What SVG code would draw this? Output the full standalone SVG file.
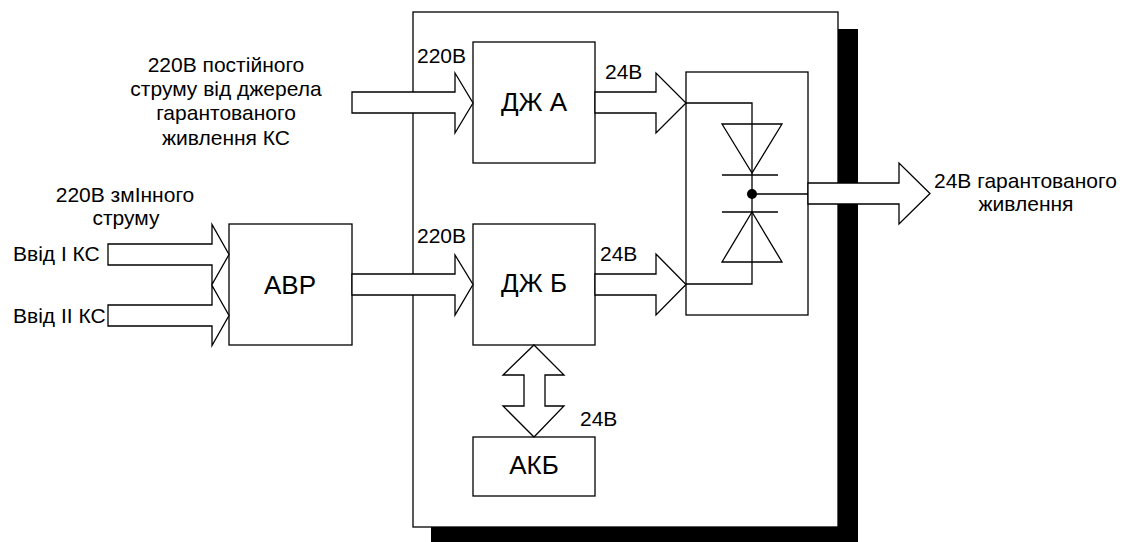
<svg xmlns="http://www.w3.org/2000/svg" width="1125" height="542" viewBox="0 0 1125 542">
<style>
.bx{fill:#fff;stroke:#000;stroke-width:1.3}
.ar{fill:#fff;stroke:#000;stroke-width:1.3;stroke-linejoin:miter}
.ln{fill:none;stroke:#000;stroke-width:1.3}
.t{font-family:"Liberation Sans",Arial,sans-serif;font-size:21px;fill:#000}
.tb{font-family:"Liberation Sans",Arial,sans-serif;font-size:26px;fill:#000;text-anchor:middle}
.m{text-anchor:middle}
</style>
<rect x="431" y="29" width="427" height="513" fill="#000"/>
<g id="frame"><rect class="bx" x="413" y="12" width="425" height="515"/></g>
<g id="abr"><rect class="bx" x="229" y="224" width="123" height="121"/><text class="tb" x="290" y="294">АВР</text></g>
<g id="dzha"><rect class="bx" x="473" y="42" width="122" height="121"/><text class="tb" x="534" y="111">ДЖ А</text></g>
<g id="dzhb"><rect class="bx" x="473" y="224" width="122" height="121"/><text class="tb" x="534" y="292">ДЖ Б</text></g>
<g id="akb"><rect class="bx" x="473" y="437" width="122" height="59"/><text class="tb" x="534" y="474">АКБ</text></g>
<g id="diodes">
<rect class="bx" x="686" y="72" width="122" height="243"/>
<polyline class="ln" points="686,103 752,103 752,284 686,284"/>
<line class="ln" x1="752" y1="194" x2="808" y2="194"/>
<polygon class="ln" points="722,124 782,124 752,173"/>
<line class="ln" x1="722" y1="175" x2="778" y2="175"/>
<line class="ln" x1="722" y1="212" x2="778" y2="212"/>
<polygon class="ln" points="752,212 782,262 722,262"/>
<circle cx="752" cy="194" r="5" fill="#000"/>
</g>
<g id="connectors">
<polygon class="ar" points="108,244 212,244 212,224.5 229,254.5 212,284.5 212,265 108,265"/>
<polygon class="ar" points="108,305 212,305 212,285.5 229,315.5 212,345.5 212,326 108,326"/>
<polygon class="ar" points="352,92 455,92 455,73 473,103 455,133 455,113 352,113"/>
<polygon class="ar" points="352,274 455,274 455,255 473,284.5 455,315 455,295 352,295"/>
<polygon class="ar" points="595,92 656,92 656,73 686,103 656,133 656,113 595,113"/>
<polygon class="ar" points="595,274 656,274 656,254 686,284.5 656,315 656,295 595,295"/>
<polygon class="ar" points="808,183 899,183 899,163 930,193.5 899,224 899,204 808,204"/>
<polygon class="ar" points="534,345 564,375 545,375 545,406 564,406 534,437 503,406 524,406 524,375 503,375"/>
</g>
<g id="labels">
<text class="t m" x="226" y="72">220В постійного</text>
<text class="t m" x="226" y="96">струму від джерела</text>
<text class="t m" x="226" y="120">гарантованого</text>
<text class="t m" x="226" y="145">живлення КС</text>
<text class="t m" x="125" y="202">220В змІнного</text>
<text class="t m" x="126" y="225">струму</text>
<text class="t" x="13" y="261">Ввід I КС</text>
<text class="t" x="13" y="323">Ввід II КС</text>
<text class="t" x="417" y="63">220В</text>
<text class="t" x="417" y="243">220В</text>
<text class="t" x="605" y="79">24В</text>
<text class="t" x="600" y="261">24В</text>
<text class="t" x="580" y="426">24В</text>
<text class="t" x="934" y="188">24В гарантованого</text>
<text class="t m" x="1026" y="211">живлення</text>
</g>
</svg>
